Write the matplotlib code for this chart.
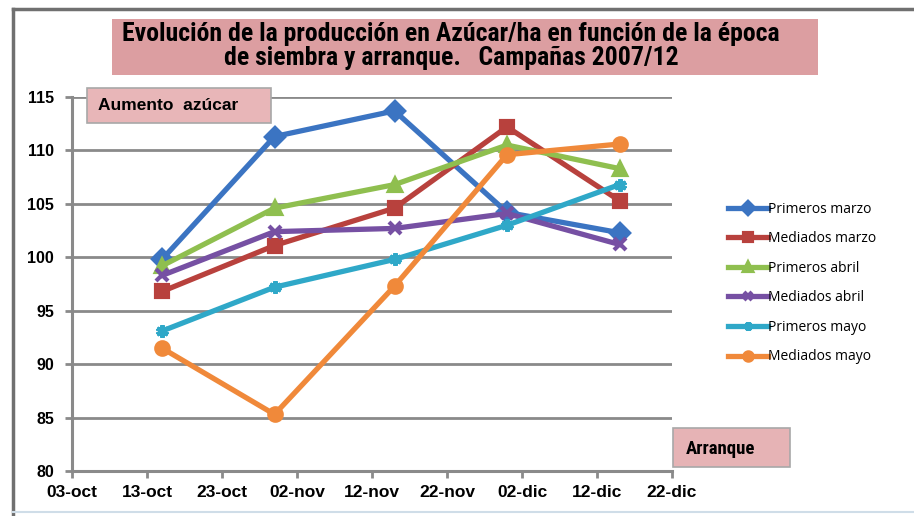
import matplotlib
matplotlib.use('Agg')
import matplotlib.pyplot as plt
from matplotlib import font_manager
from matplotlib.lines import Line2D
from matplotlib.patches import Rectangle
import pandas as pd


fechas = ['2011-10-15', '2011-10-30', '2011-11-15', '2011-11-30', '2011-12-15']

series = [
    'Primeros marzo', 'Mediados marzo', 'Primeros abril',
    'Mediados abril', 'Primeros mayo', 'Mediados mayo',
]
primeros_marzo = [99.8, 111.3, 113.7, 104.2, 102.3]
mediados_marzo = [96.8, 101.1, 104.6, 112.2, 105.3]
primeros_abril = [99.2, 104.6, 106.8, 110.5, 108.3]
mediados_abril = [98.3, 102.4, 102.7, 104.1, 101.2]
primeros_mayo = [93.1, 97.2, 99.8, 103.0, 106.8]
mediados_mayo = [91.5, 85.3, 97.3, 109.6, 110.6]

tick_fechas = pd.date_range('2011-10-03', periods=9, freq='10D')
tick_labels = ['03-oct', '13-oct', '23-oct', '02-nov', '12-nov',
               '22-nov', '02-dic', '12-dic', '22-dic']

titulo = ('Evolución de la producción en Azúcar/ha en función de la época\n'
          'de siembra y arranque.   Campañas 2007/12')

valores = [primeros_marzo, mediados_marzo, primeros_abril,
           mediados_abril, primeros_mayo, mediados_mayo]
colores = ['#3b74c2', '#b8413d', '#8fbf4f', '#7650a3', '#2fa8c8', '#f0893a']
marcadores = ['D', 's', '^', 'x', (6, 2, 0), 'o']

# pick a narrow font for the title if one is installed
instaladas = {f.name for f in font_manager.fontManager.ttflist}
if 'Liberation Sans Narrow' in instaladas:
    narrow, t_size, a_size = 'Liberation Sans Narrow', 18.5, 13.5
elif 'Roboto Condensed' in instaladas:
    narrow, t_size, a_size = 'Roboto Condensed', 18.5, 13.5
else:
    narrow, t_size, a_size = 'Liberation Sans', 13.8, 11

W, H = 914, 516
fig = plt.figure(figsize=(W / 100, H / 100), dpi=100)
fig.patch.set_facecolor('white')


def fx(px):
    return px / W


def fy(py):
    return 1 - py / H


ax = fig.add_axes([fx(72), fy(471), fx(672) - fx(72), fy(97) - fy(471)])
ax.set_facecolor('white')

x = pd.to_datetime(fechas)
for nombre, vals, c, m in zip(series, valores, colores, marcadores):
    ax.plot(x, vals, color=c, lw=3.8, marker=m, ms=9, mew=3,
            mfc=c, mec=c, label=nombre, solid_joinstyle='round')

ax.set_xlim(tick_fechas[0], tick_fechas[-1])
ax.set_ylim(80, 115)
ax.set_yticks(range(80, 116, 5))
ax.set_xticks(tick_fechas)
ax.set_xticklabels(tick_labels)

for s in ['top', 'right']:
    ax.spines[s].set_visible(False)
for s in ['left', 'bottom']:
    ax.spines[s].set_color('#8a8a8a')
    ax.spines[s].set_linewidth(2.2)

ax.grid(axis='y', color='#8a8a8a', lw=2.0)
ax.set_axisbelow(True)
ax.tick_params(axis='both', colors='#8a8a8a', width=2, length=5,
               labelcolor='black')
for lab in ax.get_xticklabels():
    lab.set_fontfamily('Liberation Sans')
    lab.set_fontweight('bold')
    lab.set_fontsize(12.5)
for lab in ax.get_yticklabels():
    lab.set_fontfamily('Liberation Sans')
    lab.set_fontweight('bold')
    lab.set_fontsize(11.5)
ax.tick_params(axis='x', pad=5)
ax.tick_params(axis='y', pad=8)

# legend
leg = fig.legend(loc='upper left', bbox_to_anchor=(fx(722), fy(196)),
                 frameon=False, handlelength=2.9, handletextpad=0.0,
                 labelspacing=1.05, borderaxespad=0,
                 prop={'family': 'Open Sans', 'size': 10})
for h in leg.legend_handles:
    h.set_markersize(6)
    h.set_linewidth(3.8)

# outer frame
fig.add_artist(Line2D([fx(13), fx(13)], [fy(9), fy(516)], color='#707070',
                      lw=2.5, transform=fig.transFigure))
fig.add_artist(Line2D([fx(13), 1], [fy(9), fy(9)], color='#707070',
                      lw=2.5, transform=fig.transFigure))
fig.add_artist(Line2D([fx(13), 1], [fy(512), fy(512)], color='#cfdde8',
                      lw=1.5, transform=fig.transFigure))

# title box
fig.add_artist(Rectangle((fx(112), fy(75)), fx(818) - fx(112), fy(19) - fy(75),
                         facecolor='#dc9ea1', edgecolor='none',
                         transform=fig.transFigure))
fig.text(fx(451), fy(46), titulo, ha='center', va='center',
         fontsize=t_size, fontweight='bold', linespacing=0.98,
         family=[narrow, 'DejaVu Sans'])

# "Aumento azúcar" box
fig.add_artist(Rectangle((fx(87), fy(123)), fx(271) - fx(87), fy(88) - fy(123),
                         facecolor='#e8b6b8', edgecolor='#a8a8a8', lw=1.2,
                         transform=fig.transFigure, zorder=5))
fig.text(fx(98), fy(105.5), 'Aumento  azúcar', ha='left', va='center',
         fontsize=12.5, fontweight='bold', family='Liberation Sans', zorder=6)

# "Arranque" box
fig.add_artist(Rectangle((fx(673), fy(467)), fx(790) - fx(673), fy(428) - fy(467),
                         facecolor='#e6b3b5', edgecolor='#a8a8a8', lw=1.2,
                         transform=fig.transFigure, zorder=5))
fig.text(fx(686), fy(449), 'Arranque', ha='left', va='center',
         fontsize=a_size, fontweight='bold',
         family=[narrow, 'DejaVu Sans'], zorder=6)

fig.savefig('out.png', dpi=100)
